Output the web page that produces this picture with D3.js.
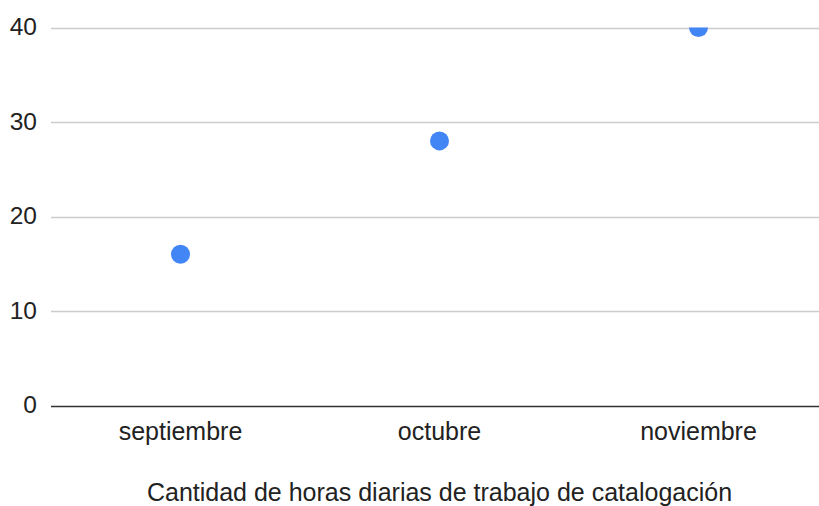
<!DOCTYPE html>
<html>
<head>
<meta charset="utf-8">
<script src="https://cdn.jsdelivr.net/npm/d3@7"></script>
<style>
  body { margin: 0; background: #fff; }
  text { font-family: Arial, "Liberation Sans", sans-serif; fill: #222; }
</style>
</head>
<body>
<div id="chart"></div>
<script>
// data
const months = ["septiembre", "octubre", "noviembre"];
const horas = [16, 28, 40];
const yTicks = [0, 10, 20, 30, 40];
const xTitle = "Cantidad de horas diarias de trabajo de catalogación";

const W = 819, H = 506;
const plot = { left: 51, right: 828, top: 27.5, bottom: 405.5 };

const svg = d3.select("#chart").append("svg")
    .attr("width", W)
    .attr("height", H);

const x = d3.scaleBand().domain(months).range([plot.left, plot.right]);
const y = d3.scaleLinear().domain([0, 40]).range([plot.bottom, plot.top]);

// gridlines
svg.append("g")
    .selectAll("line")
    .data(yTicks.filter((d) => d !== 0))
    .enter()
    .append("line")
    .attr("x1", plot.left)
    .attr("x2", W)
    .attr("y1", (d) => Math.round(y(d)) + 0.5)
    .attr("y2", (d) => Math.round(y(d)) + 0.5)
    .attr("stroke", "#ccc")
    .attr("stroke-width", 1.5);

// y tick labels
svg.append("g")
    .selectAll("text")
    .data(yTicks)
    .enter()
    .append("text")
    .attr("x", 37)
    .attr("y", (d) => y(d) - 1)
    .attr("dy", "0.35em")
    .attr("text-anchor", "end")
    .style("font-size", "24.5px")
    .text((d) => d);

// points, clipped to plot area
svg.append("clipPath").attr("id", "plotclip")
    .append("rect")
    .attr("x", plot.left).attr("y", plot.top)
    .attr("width", plot.right - plot.left).attr("height", plot.bottom - plot.top);

svg.append("g")
    .attr("clip-path", "url(#plotclip)")
    .selectAll("circle")
    .data(months)
    .enter()
    .append("circle")
    .attr("cx", (d) => x(d) + x.bandwidth() / 2)
    .attr("cy", (d, i) => y(horas[i]))
    .attr("r", 9.5)
    .attr("fill", "#4285f4");

// baseline
svg.append("line")
    .attr("x1", plot.left).attr("x2", W)
    .attr("y1", Math.round(y(0)) + 0.5).attr("y2", Math.round(y(0)) + 0.5)
    .attr("stroke", "#333")
    .attr("stroke-width", 1.5);

// x labels
svg.append("g")
    .selectAll("text")
    .data(months)
    .enter()
    .append("text")
    .attr("x", (d) => x(d) + x.bandwidth() / 2)
    .attr("y", 431.5)
    .attr("dy", "0.35em")
    .attr("text-anchor", "middle")
    .style("font-size", "25px")
    .text((d) => d);

// axis title
svg.append("text")
    .attr("x", (plot.left + plot.right) / 2)
    .attr("y", 492.5)
    .attr("dy", "0.35em")
    .attr("text-anchor", "middle")
    .style("font-size", "25px")
    .text(xTitle);
</script>
</body>
</html>
